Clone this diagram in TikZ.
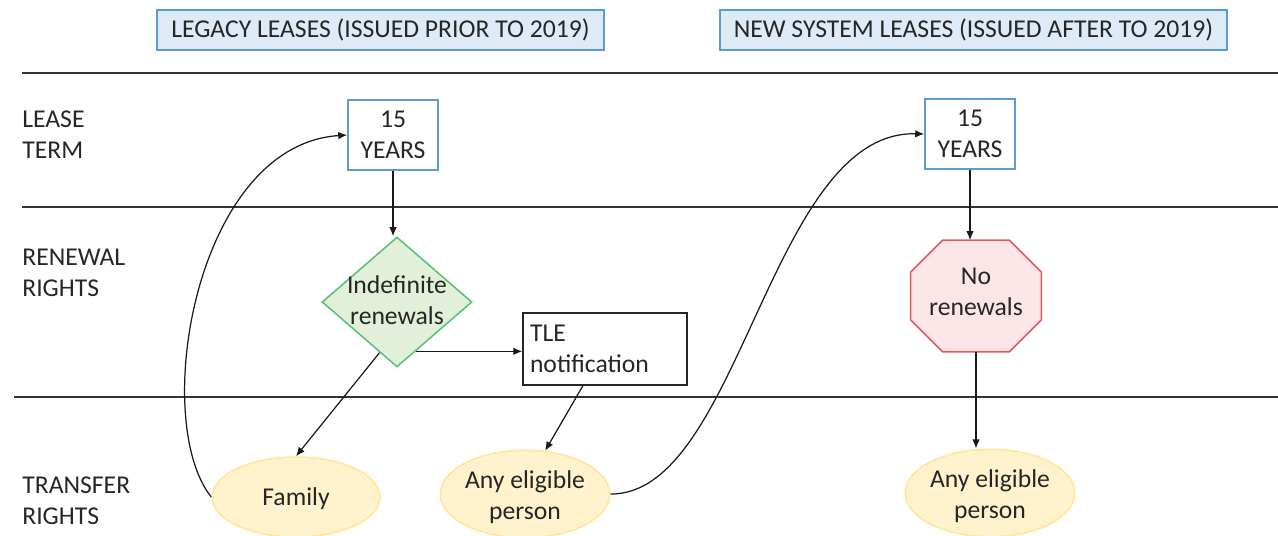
\documentclass[tikz,border=0pt]{standalone}
\usepackage{fontspec}
\setmainfont{Carlito}
\usetikzlibrary{positioning}
\usetikzlibrary{shapes.geometric, arrows.meta, backgrounds}

\definecolor{headblue}{HTML}{5B9BD5}
\definecolor{headfill}{HTML}{DEEBF7}
\definecolor{diamondgreen}{HTML}{5CC17A}
\definecolor{diamondfill}{HTML}{E2F0D9}
\definecolor{stopred}{HTML}{DE5B5B}
\definecolor{stopfill}{HTML}{FBE5E6}
\definecolor{ovalline}{HTML}{FFE699}
\definecolor{ovalfill}{HTML}{FFF2CC}
\definecolor{textgray}{HTML}{262626}

\begin{document}
\begin{tikzpicture}[x=0.02cm, y=-0.02cm,
                >={Latex[length=1.8mm, width=1.5mm]},
                every node/.style={font=\fontsize{14.6}{17.6}\selectfont, text=textgray},
                headernode/.style={rectangle, draw=headblue, fill=headfill, line width=1.2pt, minimum height=0.8cm, inner sep=0pt},
                bluesquarednode/.style={rectangle, draw=headblue, fill=white, line width=0.9pt, minimum width=1.8cm, minimum height=1.4cm, align=center, inner sep=0pt},
                blacksquarednode/.style={rectangle, draw=black!85, fill=white, line width=0.8pt, minimum width=3.28cm, minimum height=1.44cm, text width=3.0cm, align=left, inner sep=0pt},
                greendiamondnode/.style={diamond, draw=diamondgreen, fill=diamondfill, line width=0.9pt, minimum width=3cm, minimum height=2.6cm, inner sep=0pt},
                redstopnode/.style={rectangle, minimum width=2.6cm, minimum height=2.22cm, align=center, inner sep=0pt},
                redstopline/.style={draw=stopred, fill=stopfill, line width=0.9pt},
                yellowovalnode/.style={ellipse, draw=ovalline, fill=ovalfill, line width=0.9pt, minimum width=3.36cm, minimum height=1.6cm, align=center, inner sep=0pt},
                rowlabel/.style={anchor=west, align=left, inner sep=0pt},
                rule/.style={black!80, line width=0.8pt},
                arrowline/.style={black!90, line width=0.7pt},
                ]
                \useasboundingbox (0,0) rectangle (1278,535);

                % row separators
                \draw[rule] (22,73) -- (1278,73);
                \draw[rule] (22,207) -- (1278,207);
                \draw[rule] (14,397) -- (1278,397);

                % column headers
                \node[headernode, minimum width=8.94cm] (legacy) at (380.5,30) {LEGACY LEASES (ISSUED PRIOR TO 2019)};
                \node[headernode, minimum width=10.14cm] (newsys) at (973.5,30) {NEW SYSTEM LEASES (ISSUED AFTER TO 2019)};

                % row labels
                \node[rowlabel] (termlabel) at (22,134.5) {LEASE\\TERM};
                \node[rowlabel] (renewlabel) at (22,273) {RENEWAL\\RIGHTS};
                \node[rowlabel] (transferlabel) at (22,501) {TRANSFER\\RIGHTS};

                % legacy column
                \node[bluesquarednode] (term1) at (393,135) {15\\YEARS};
                \node[greendiamondnode] (renew1) at (397,302) {\smash{\makebox[0pt]{\raisebox{-4pt}{\begin{tabular}{@{}c@{}}Indefinite\\renewals\end{tabular}}}}};
                \node[blacksquarednode] (tle) at (605,349) {TLE\\notification};
                \node[yellowovalnode] (family) at (296,497) {\raisebox{-1.1pt}[\height][\depth]{Family}};
                \node[yellowovalnode] (elig1) at (525,494) {\raisebox{-2.3pt}[\height][\depth]{\begin{tabular}{@{}c@{}}Any eligible\\person\end{tabular}}};

                % new system column
                \node[bluesquarednode] (term2) at (970,134) {15\\YEARS};
                \node[redstopnode] (norenew) at (976,296) {\raisebox{1.2pt}[\height][\depth]{\begin{tabular}{@{}c@{}}No\\renewals\end{tabular}}};
                \begin{scope}[on background layer]
                    \path[redstopline] ([xshift=0.64cm]norenew.north west) -- ([xshift=-0.64cm]norenew.north east)
                        -- ([yshift=-0.64cm]norenew.north east) -- ([yshift=0.64cm]norenew.south east)
                        -- ([xshift=-0.64cm]norenew.south east) -- ([xshift=0.64cm]norenew.south west)
                        -- ([yshift=0.64cm]norenew.south west) -- ([yshift=-0.64cm]norenew.north west) -- cycle;
                \end{scope}
                \node[yellowovalnode] (elig2) at (990,493) {\raisebox{-2.3pt}[\height][\depth]{\begin{tabular}{@{}c@{}}Any eligible\\person\end{tabular}}};

                \draw[->, arrowline] (term1.south) -- (term1.south |- renew1.north);
                \draw[->, arrowline] (renew1.-69) -- (renew1.-69 -| tle.west);
                \draw[->, arrowline] (renew1.-109) -- (family.north);
                \draw[->, arrowline] (tle.-121) -- (elig1.65);
                \draw[->, arrowline] (family.west) .. controls (150,420) and (195,145) .. (term1.west);
                \draw[->, arrowline] (elig1.east) .. controls (740,495) and (770,130) .. (term2.west);

                \draw[->, arrowline] (term2.south) -- (term2.south |- norenew.north);
                \draw[->, arrowline] (norenew.south) -- (norenew.south |- elig2.north);
            \end{tikzpicture}
\end{document}
